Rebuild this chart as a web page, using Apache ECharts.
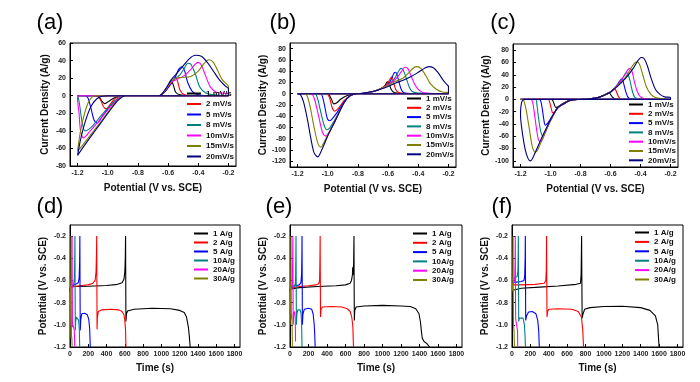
<!DOCTYPE html>
<html><head><meta charset="utf-8">
<script src="https://cdn.jsdelivr.net/npm/echarts@6/dist/echarts.min.js"></script>
<style>html,body{margin:0;padding:0;background:#fff}#c{width:700px;height:382px}</style>
</head><body><div id="c"></div>
<script>
// ---------- tick labels ----------
const cvTicksX = [-1.2, -1.0, -0.8, -0.6, -0.4, -0.2];
const cvTicksYa = [-80, -60, -40, -20, 0, 20, 40, 60];
const cvTicksYb = [-120, -100, -80, -60, -40, -20, 0, 20, 40, 60, 80];
const cvTicksYc = [-100, -80, -60, -40, -20, 0, 20, 40, 60, 80];
const gcdTicksX = [0, 200, 400, 600, 800, 1000, 1200, 1400, 1600, 1800];
const gcdTicksY = [-1.2, -1.0, -0.8, -0.6, -0.4, -0.2];
const scanRates = ['1 mV/s', '2 mV/s', '5 mV/s', '8 mV/s', '10mV/s', '15mV/s', '20mV/s'];
const currents = ['1 A/g', '2 A/g', '5 A/g', '10A/g', '20A/g', '30A/g'];
const panelLabels = ['(a)', '(b)', '(c)', '(d)', '(e)', '(f)'];

// ---------- (a) CV curves [potential V, current A/g] ----------
const cvA_1 = [[-0.2,0],[-0.9,0],[-0.95,-2],[-0.99,-6],[-1.02,-9],[-1.04,-6],[-1.06,-1],[-1.1,0],[-1.2,0],[-0.66,0],[-0.63,3],[-0.6,10],[-0.58,17],[-0.565,12],[-0.55,4],[-0.52,1],[-0.45,0],[-0.2,0]];
const cvA_2 = [[-0.2,0],[-0.9,0],[-0.95,-3],[-0.98,-9],[-1.01,-15],[-1.03,-12],[-1.05,-4],[-1.08,0],[-1.2,0],[-0.66,0],[-0.62,5],[-0.58,14],[-0.55,21],[-0.535,15],[-0.52,6],[-0.49,1],[-0.4,0],[-0.2,0]];
const cvA_5 = [[-0.2,0],[-0.89,0],[-0.93,-3],[-0.98,-11],[-1.03,-22],[-1.07,-31],[-1.09,-28],[-1.11,-15],[-1.13,-3],[-1.15,0],[-1.2,0],[-0.66,0],[-0.62,5],[-0.58,14],[-0.55,22],[-0.53,30],[-0.51,33],[-0.49,28],[-0.47,15],[-0.44,5],[-0.4,1],[-0.3,0],[-0.2,0]];
const cvA_8 = [[-0.2,0],[-0.89,0],[-0.94,-4],[-1.0,-14],[-1.06,-26],[-1.11,-36],[-1.15,-40],[-1.17,-30],[-1.185,-12],[-1.195,-2],[-1.2,0],[-0.66,0],[-0.62,6],[-0.58,16],[-0.55,20],[-0.52,24],[-0.49,32],[-0.47,37],[-0.45,36],[-0.42,25],[-0.39,10],[-0.35,3],[-0.3,1],[-0.2,0]];
const cvA_10 = [[-0.2,0],[-0.89,0],[-0.94,-5],[-1.0,-16],[-1.06,-29],[-1.12,-41],[-1.16,-48],[-1.18,-40],[-1.19,-20],[-1.2,-3],[-1.19,0],[-0.66,0],[-0.62,6],[-0.58,15],[-0.55,18],[-0.5,22],[-0.46,28],[-0.42,36],[-0.4,38],[-0.38,35],[-0.35,22],[-0.32,10],[-0.28,4],[-0.2,2],[-0.2,0]];
const cvA_15 = [[-0.2,0],[-0.89,0],[-0.94,-6],[-1.0,-19],[-1.06,-33],[-1.12,-46],[-1.17,-57],[-1.2,-63],[-1.18,-40],[-1.15,-18],[-1.12,-5],[-1.08,0],[-0.66,0],[-0.62,6],[-0.58,16],[-0.55,20],[-0.5,21],[-0.45,22],[-0.4,28],[-0.36,37],[-0.33,41],[-0.3,38],[-0.27,28],[-0.24,18],[-0.2,10],[-0.2,0]];
const cvA_20 = [[-0.2,0],[-0.88,0],[-0.93,-5],[-0.99,-18],[-1.05,-32],[-1.11,-46],[-1.16,-58],[-1.2,-68],[-1.18,-50],[-1.15,-30],[-1.11,-12],[-1.06,-2],[-1.0,0],[-0.66,0],[-0.62,7],[-0.58,18],[-0.54,26],[-0.5,34],[-0.46,42],[-0.42,46],[-0.38,45],[-0.34,38],[-0.3,28],[-0.26,18],[-0.22,11],[-0.2,8],[-0.2,0]];

// ---------- (b) CV curves ----------
const cvB_1 = [[-0.2,0],[-0.82,0],[-0.87,-3],[-0.91,-9],[-0.945,-17],[-0.96,-18],[-0.975,-10],[-0.99,-2],[-1.0,0],[-1.2,0],[-0.8,0],[-0.7,4],[-0.65,9],[-0.62,15],[-0.605,21],[-0.595,19],[-0.58,8],[-0.56,2],[-0.5,0],[-0.2,0]];
const cvB_2 = [[-0.2,0],[-0.8,0],[-0.85,-3],[-0.89,-12],[-0.93,-26],[-0.955,-31],[-0.97,-25],[-0.985,-10],[-1.0,-1],[-1.01,0],[-1.2,0],[-0.8,0],[-0.7,4],[-0.65,9],[-0.61,16],[-0.585,27],[-0.575,30],[-0.565,22],[-0.55,8],[-0.53,2],[-0.45,0],[-0.2,0]];
const cvB_5 = [[-0.2,0],[-0.8,0],[-0.85,-3],[-0.89,-14],[-0.94,-34],[-0.975,-46],[-0.99,-48],[-1.005,-42],[-1.02,-22],[-1.035,-5],[-1.045,0],[-1.2,0],[-0.8,0],[-0.7,4],[-0.65,9],[-0.6,16],[-0.575,28],[-0.56,37],[-0.55,38],[-0.54,33],[-0.525,18],[-0.51,6],[-0.49,1],[-0.4,0],[-0.2,0]];
const cvB_8 = [[-0.2,0],[-0.8,0],[-0.85,-3],[-0.89,-15],[-0.95,-45],[-0.985,-60],[-1.005,-64],[-1.025,-55],[-1.05,-28],[-1.07,-6],[-1.085,0],[-1.2,0],[-0.8,0],[-0.7,4],[-0.65,9],[-0.6,16],[-0.56,26],[-0.53,40],[-0.515,45],[-0.5,42],[-0.48,28],[-0.46,12],[-0.44,4],[-0.4,1],[-0.2,0]];
const cvB_10 = [[-0.2,0],[-0.8,0],[-0.85,-3],[-0.89,-15],[-0.95,-47],[-0.99,-68],[-1.015,-75],[-1.035,-68],[-1.06,-40],[-1.085,-12],[-1.1,-2],[-1.11,0],[-1.2,0],[-0.8,0],[-0.7,4],[-0.65,9],[-0.6,16],[-0.55,26],[-0.51,40],[-0.49,47],[-0.47,45],[-0.45,33],[-0.42,15],[-0.39,5],[-0.35,1],[-0.2,0]];
const cvB_15 = [[-0.2,0],[-0.8,0],[-0.85,-3],[-0.89,-15],[-0.95,-48],[-1.0,-73],[-1.03,-89],[-1.045,-95],[-1.065,-88],[-1.09,-60],[-1.115,-25],[-1.135,-5],[-1.15,0],[-1.2,0],[-0.8,0],[-0.7,4],[-0.65,9],[-0.6,15],[-0.55,22],[-0.5,28],[-0.46,38],[-0.43,46],[-0.41,48],[-0.38,44],[-0.35,32],[-0.32,18],[-0.28,8],[-0.24,3],[-0.2,2],[-0.2,0]];
const cvB_20 = [[-0.2,0],[-0.8,0],[-0.85,-3],[-0.89,-15],[-0.95,-48],[-1.0,-75],[-1.04,-100],[-1.067,-112],[-1.09,-105],[-1.11,-82],[-1.135,-45],[-1.16,-15],[-1.18,-2],[-1.2,0],[-0.8,0],[-0.7,4],[-0.65,8],[-0.6,13],[-0.55,19],[-0.5,24],[-0.45,30],[-0.4,38],[-0.36,45],[-0.33,48],[-0.3,46],[-0.27,38],[-0.24,26],[-0.21,16],[-0.2,13],[-0.2,0]];

// ---------- (c) CV curves ----------
const cvC_1 = [[-0.2,0],[-0.82,0],[-0.88,-2],[-0.92,-7],[-0.95,-12],[-0.965,-13],[-0.975,-8],[-0.985,-2],[-0.995,0],[-1.2,0],[-0.8,0],[-0.7,2],[-0.65,6],[-0.62,10],[-0.61,11],[-0.6,8],[-0.585,3],[-0.57,1],[-0.5,0],[-0.2,0]];
const cvC_2 = [[-0.2,0],[-0.82,0],[-0.87,-2],[-0.91,-7],[-0.95,-14],[-0.975,-21],[-0.985,-22],[-0.995,-15],[-1.005,-5],[-1.015,0],[-1.2,0],[-0.8,0],[-0.7,2],[-0.65,6],[-0.6,12],[-0.575,17],[-0.565,15],[-0.55,6],[-0.535,1],[-0.5,0],[-0.2,0]];
const cvC_5 = [[-0.2,0],[-0.82,0],[-0.87,-2],[-0.91,-7],[-0.95,-13],[-0.99,-28],[-1.02,-39],[-1.035,-42],[-1.045,-32],[-1.055,-15],[-1.065,-3],[-1.075,0],[-1.2,0],[-0.8,0],[-0.7,2],[-0.65,6],[-0.6,12],[-0.56,22],[-0.535,31],[-0.525,33],[-0.515,28],[-0.5,14],[-0.485,4],[-0.47,1],[-0.4,0],[-0.2,0]];
const cvC_8 = [[-0.2,0],[-0.82,0],[-0.87,-2],[-0.91,-7],[-0.95,-13],[-1.0,-34],[-1.035,-53],[-1.05,-60],[-1.065,-52],[-1.08,-30],[-1.09,-10],[-1.1,0],[-1.2,0],[-0.8,0],[-0.7,2],[-0.65,6],[-0.6,12],[-0.55,24],[-0.515,36],[-0.495,43],[-0.485,42],[-0.47,30],[-0.455,14],[-0.44,4],[-0.42,1],[-0.35,0],[-0.2,0]];
const cvC_10 = [[-0.2,0],[-0.82,0],[-0.87,-2],[-0.91,-7],[-0.95,-13],[-1.0,-35],[-1.04,-57],[-1.065,-69],[-1.08,-66],[-1.095,-45],[-1.11,-18],[-1.12,-4],[-1.13,0],[-1.2,0],[-0.8,0],[-0.7,2],[-0.65,6],[-0.6,12],[-0.55,24],[-0.51,38],[-0.485,48],[-0.47,50],[-0.455,44],[-0.44,28],[-0.42,12],[-0.4,4],[-0.37,1],[-0.3,0],[-0.2,0]];
const cvC_15 = [[-0.2,0],[-0.82,0],[-0.87,-2],[-0.91,-7],[-0.95,-13],[-1.0,-35],[-1.05,-62],[-1.085,-82],[-1.1,-86],[-1.12,-78],[-1.14,-50],[-1.16,-20],[-1.175,-4],[-1.185,0],[-1.2,0],[-0.8,0],[-0.7,2],[-0.65,6],[-0.6,12],[-0.55,23],[-0.5,36],[-0.46,52],[-0.435,60],[-0.42,61],[-0.405,56],[-0.385,40],[-0.36,20],[-0.33,8],[-0.3,3],[-0.25,1],[-0.2,0]];
const cvC_20 = [[-0.2,0],[-0.82,0],[-0.87,-2],[-0.91,-7],[-0.95,-13],[-1.0,-33],[-1.05,-58],[-1.09,-80],[-1.12,-96],[-1.135,-100],[-1.15,-96],[-1.17,-80],[-1.19,-50],[-1.2,-25],[-1.19,-3],[-1.17,0],[-0.8,0],[-0.7,2],[-0.65,6],[-0.6,12],[-0.55,22],[-0.5,34],[-0.45,50],[-0.42,62],[-0.395,68],[-0.375,66],[-0.355,55],[-0.33,35],[-0.3,16],[-0.27,8],[-0.24,4],[-0.2,3],[-0.2,0]];

// ---------- (d) GCD curves [time s, potential V] ----------
const gcdD_1 = [[0,-0.70],[5,-0.66],[50,-0.655],[200,-0.652],[400,-0.645],[520,-0.635],[570,-0.62],[590,-0.59],[600,-0.52],[605,-0.4],[608,-0.2],[610,-0.6],[612,-0.97],[618,-0.9],[630,-0.875],[700,-0.86],[900,-0.85],[1100,-0.855],[1200,-0.87],[1250,-0.89],[1275,-0.93],[1295,-1.02],[1305,-1.1],[1315,-1.2]];
const gcdD_2 = [[0,-0.66],[20,-0.65],[100,-0.648],[200,-0.64],[250,-0.625],[275,-0.6],[285,-0.52],[290,-0.35],[292,-0.2],[294,-0.6],[296,-1.04],[300,-0.93],[310,-0.88],[350,-0.865],[450,-0.86],[530,-0.865],[570,-0.88],[590,-0.91],[600,-0.96],[608,-1.05],[612,-1.2]];
const gcdD_5 = [[0,-0.66],[20,-0.645],[60,-0.635],[90,-0.62],[100,-0.58],[105,-0.45],[108,-0.2],[110,-0.7],[112,-1.05],[118,-0.95],[130,-0.9],[160,-0.895],[190,-0.91],[205,-0.95],[215,-1.03],[222,-1.2]];
const gcdD_10 = [[0,-0.9],[3,-0.66],[20,-0.645],[40,-0.63],[48,-0.58],[52,-0.4],[54,-0.2],[56,-0.7],[58,-1.05],[62,-0.97],[70,-0.93],[85,-0.935],[95,-0.96],[102,-1.05],[106,-1.2]];
const gcdD_20 = [[0,-1.0],[2,-0.7],[10,-0.66],[18,-0.62],[21,-0.45],[23,-0.2],[25,-0.7],[27,-1.02],[32,-1.0],[40,-1.0],[47,-1.05],[52,-1.2]];
const gcdD_30 = [[0,-1.12],[2,-0.75],[6,-0.68],[10,-0.6],[12,-0.2],[14,-0.8],[16,-1.1],[20,-1.12],[24,-1.2]];

// ---------- (e) GCD curves ----------
const gcdE_1 = [[0,-0.68],[10,-0.67],[100,-0.665],[300,-0.655],[500,-0.648],[600,-0.64],[650,-0.625],[665,-0.6],[675,-0.55],[678,-0.48],[682,-0.55],[688,-0.45],[692,-0.2],[694,-0.7],[696,-0.96],[700,-0.87],[715,-0.84],[800,-0.83],[1000,-0.825],[1200,-0.83],[1300,-0.835],[1360,-0.855],[1395,-0.9],[1410,-0.97],[1420,-1.05],[1430,-1.12],[1450,-1.15],[1480,-1.17],[1510,-1.2]];
const gcdE_2 = [[0,-0.67],[10,-0.66],[100,-0.655],[200,-0.648],[280,-0.64],[310,-0.63],[320,-0.6],[324,-0.4],[326,-0.2],[328,-0.6],[330,-0.93],[336,-0.86],[350,-0.84],[450,-0.835],[560,-0.84],[620,-0.855],[650,-0.88],[668,-0.93],[680,-1.02],[686,-1.2]];
const gcdE_5 = [[0,-0.7],[5,-0.66],[50,-0.65],[100,-0.64],[118,-0.62],[125,-0.55],[128,-0.4],[130,-0.2],[132,-0.6],[134,-1.0],[140,-0.9],[155,-0.86],[200,-0.85],[235,-0.86],[250,-0.9],[262,-1.0],[268,-1.1],[272,-1.2]];
const gcdE_10 = [[0,-0.75],[3,-0.67],[30,-0.66],[55,-0.64],[60,-0.6],[63,-0.4],[65,-0.2],[67,-0.6],[69,-1.0],[75,-0.9],[85,-0.865],[110,-0.865],[120,-0.9],[126,-1.0],[130,-1.2]];
const gcdE_20 = [[0,-0.9],[3,-0.7],[15,-0.66],[25,-0.63],[29,-0.4],[31,-0.2],[33,-0.7],[35,-1.0],[40,-0.9],[50,-0.88],[57,-0.95],[60,-1.15]];
const gcdE_30 = [[0,-1.0],[2,-0.75],[6,-0.68],[9,-0.6],[11,-0.2],[13,-0.7],[15,-0.95],[18,-0.9],[22,-0.95],[26,-1.2]];

// ---------- (f) GCD curves ----------
const gcdF_1 = [[0,-0.69],[10,-0.68],[100,-0.67],[300,-0.66],[500,-0.65],[700,-0.635],[745,-0.625],[752,-0.55],[757,-0.2],[760,-0.6],[763,-0.94],[770,-0.91],[790,-0.86],[850,-0.845],[1000,-0.835],[1200,-0.833],[1400,-0.845],[1500,-0.87],[1560,-0.92],[1585,-1.0],[1592,-1.1],[1600,-1.2]];
const gcdF_2 = [[0,-0.64],[10,-0.645],[100,-0.64],[250,-0.635],[350,-0.625],[368,-0.6],[373,-0.5],[376,-0.2],[378,-0.6],[381,-0.93],[388,-0.88],[400,-0.86],[500,-0.855],[650,-0.86],[720,-0.88],[755,-0.93],[770,-1.05],[778,-1.2]];
const gcdF_5 = [[0,-0.62],[5,-0.61],[50,-0.615],[100,-0.61],[130,-0.6],[138,-0.56],[143,-0.4],[145,-0.2],[147,-0.6],[149,-0.96],[158,-0.92],[180,-0.885],[220,-0.88],[260,-0.9],[280,-0.96],[290,-1.05],[297,-1.2]];
const gcdF_10 = [[0,-0.6],[5,-0.58],[30,-0.575],[55,-0.565],[64,-0.52],[67,-0.4],[69,-0.2],[71,-0.6],[73,-0.97],[80,-0.94],[100,-0.925],[120,-0.94],[135,-1.0],[142,-1.1],[146,-1.2]];
const gcdF_20 = [[0,-0.66],[5,-0.64],[20,-0.62],[30,-0.58],[34,-0.4],[36,-0.2],[38,-0.7],[40,-0.95],[45,-0.94],[55,-0.95],[60,-1.05],[62,-1.2]];
const gcdF_30 = [[0,-0.7],[3,-0.67],[8,-0.62],[10,-0.5],[12,-0.2],[14,-0.7],[16,-1.0],[22,-1.05],[27,-1.2]];

// ---------- styles ----------
const FONT = '"Liberation Sans", Arial, Helvetica, sans-serif';
const cvColors = ['#000000', '#ff0000', '#0000ff', '#008080', '#ff00ff', '#808000', '#000080'];
const gcdColors = ['#000000', '#ff0000', '#0000ff', '#008080', '#ff00ff', '#808000'];

const cvPanels = [
  [cvA_1, cvA_2, cvA_5, cvA_8, cvA_10, cvA_15, cvA_20],
  [cvB_1, cvB_2, cvB_5, cvB_8, cvB_10, cvB_15, cvB_20],
  [cvC_1, cvC_2, cvC_5, cvC_8, cvC_10, cvC_15, cvC_20]
];
const gcdPanels = [
  [gcdD_1, gcdD_2, gcdD_5, gcdD_10, gcdD_20, gcdD_30],
  [gcdE_1, gcdE_2, gcdE_5, gcdE_10, gcdE_20, gcdE_30],
  [gcdF_1, gcdF_2, gcdF_5, gcdF_10, gcdF_20, gcdF_30]
];

const grids = [
  {left: 70, top: 43, width: 166, height: 123},
  {left: 290, top: 43, width: 166, height: 124},
  {left: 513, top: 44, width: 165, height: 123},
  {left: 70, top: 225, width: 170, height: 122},
  {left: 290, top: 225, width: 172, height: 122},
  {left: 512, top: 225, width: 171, height: 122}
].map(g => Object.assign({show: true, borderColor: '#000', borderWidth: 1, backgroundColor: 'transparent', containLabel: false}, g));

const tickFont = {fontSize: 7, fontWeight: 'bold', color: '#222', fontFamily: FONT};
const nameFont = {fontSize: 10, fontWeight: 'bold', color: '#111', fontFamily: FONT};

function axis(gridIndex, min, max, ticks, fmt, name, nameGap) {
  return {
    type: 'value', gridIndex, min, max, name, nameLocation: 'middle', nameGap,
    nameTextStyle: nameFont,
    axisLine: {show: true, onZero: false, lineStyle: {color: '#000', width: 1}},
    axisTick: {show: true, inside: true, length: 3, customValues: ticks, lineStyle: {color: '#000', width: 1}},
    axisLabel: Object.assign({customValues: ticks, formatter: fmt, margin: 4}, tickFont),
    splitLine: {show: false}
  };
}
const f1 = v => Number(v).toFixed(1);
const f0 = v => String(Math.round(v));

const xAxes = [
  axis(0, -1.25, -0.15, cvTicksX, f1, 'Potential (V vs. SCE)', 17),
  axis(1, -1.25, -0.15, cvTicksX, f1, 'Potential (V vs. SCE)', 17),
  axis(2, -1.25, -0.15, cvTicksX, f1, 'Potential (V vs. SCE)', 17),
  axis(3, 0, 1860, gcdTicksX, f0, 'Time (s)', 16),
  axis(4, 0, 1860, gcdTicksX, f0, 'Time (s)', 16),
  axis(5, 0, 1860, gcdTicksX, f0, 'Time (s)', 16)
];
const yAxes = [
  axis(0, -80, 60, cvTicksYa, f0, 'Current Density (A/g)', 20),
  axis(1, -130, 90, cvTicksYb, f0, 'Current Density (A/g)', 22),
  axis(2, -110, 90, cvTicksYc, f0, 'Current Density (A/g)', 22),
  axis(3, -1.2, -0.1, gcdTicksY, f1, 'Potential (V vs. SCE)', 22),
  axis(4, -1.2, -0.1, gcdTicksY, f1, 'Potential (V vs. SCE)', 22),
  axis(5, -1.2, -0.1, gcdTicksY, f1, 'Potential (V vs. SCE)', 22)
];

const series = [];
cvPanels.forEach((curves, p) => curves.forEach((d, i) => series.push({
  name: scanRates[i], type: 'line', xAxisIndex: p, yAxisIndex: p, data: d,
  showSymbol: false, smooth: 0.3, lineStyle: {width: 1.1, color: cvColors[i]}, itemStyle: {color: cvColors[i]}
})));
gcdPanels.forEach((curves, p) => curves.forEach((d, i) => series.push({
  name: currents[i], type: 'line', xAxisIndex: p + 3, yAxisIndex: p + 3, data: d,
  showSymbol: false, smooth: false, lineStyle: {width: 1.1, color: gcdColors[i]}, itemStyle: {color: gcdColors[i]}
})));

const legendBase = {
  orient: 'vertical', icon: 'rect', itemWidth: 14, itemHeight: 2, padding: 0,
  textStyle: {fontSize: 8, fontWeight: 'bold', color: '#111', fontFamily: FONT, lineHeight: 9}
};
const legends = [
  {data: scanRates, left: 187, top: 89, itemGap: 1.5},
  {data: scanRates, left: 407, top: 94, itemGap: 0.3},
  {data: scanRates, left: 629, top: 100, itemGap: 0.3},
  {data: currents, left: 194, top: 229, itemGap: 0},
  {data: currents, left: 413, top: 229, itemGap: 0.3},
  {data: currents, left: 635, top: 228, itemGap: 0.4}
].map(l => Object.assign({}, legendBase, l));

const labelPos = [[50, 23], [283, 23], [503, 23], [50, 207], [279, 207], [502, 207]];
const graphic = panelLabels.map((t, i) => ({
  type: 'text', x: labelPos[i][0], y: labelPos[i][1],
  style: {text: t, fontSize: 22, fontFamily: FONT, fill: '#000', align: 'center', verticalAlign: 'middle'}
}));

const chart = echarts.init(document.getElementById('c'), null, {renderer: 'canvas'});
chart.setOption({
  animation: false,
  backgroundColor: '#fff',
  grid: grids, xAxis: xAxes, yAxis: yAxes, legend: legends, series, graphic
});
</script></body></html>
